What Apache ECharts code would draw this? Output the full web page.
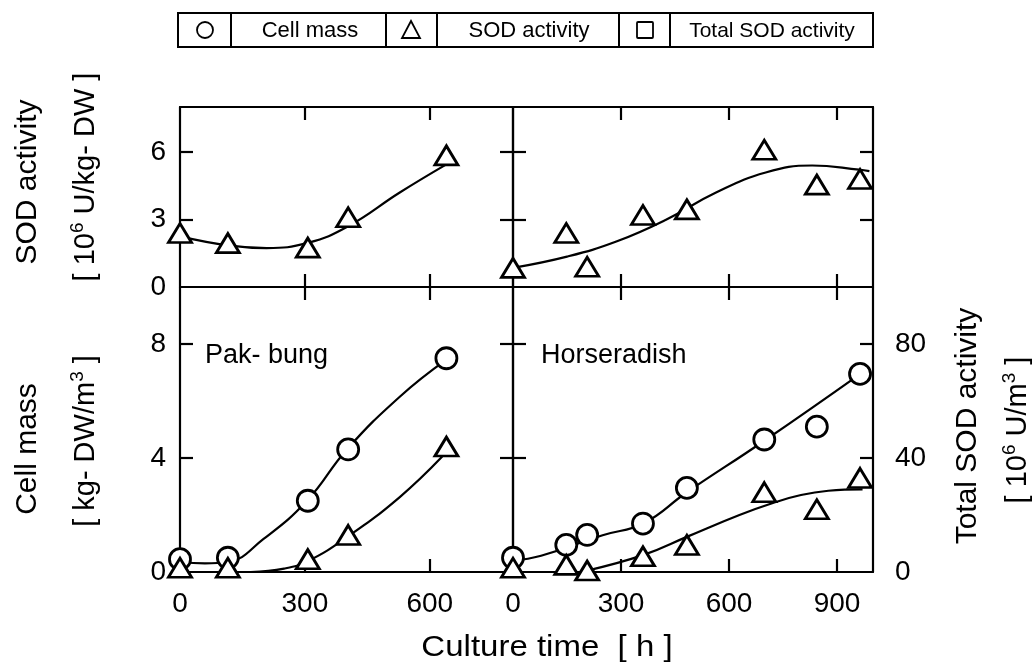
<!DOCTYPE html>
<html><head><meta charset="utf-8">
<script src="https://cdn.jsdelivr.net/npm/echarts@6/dist/echarts.min.js"></script>
<style>html,body{margin:0;padding:0;background:#fff}#c{width:1035px;height:664px}</style>
</head><body><div id="c"></div>
<script>
// ---- data ----
const hoursPak = [0, 115, 307, 404, 640];
const sodPak = [2.4, 1.95, 1.75, 3.1, 5.85];
const cellPak = [0.45, 0.5, 2.5, 4.3, 7.5];
const totalPak = [1.5, 1.5, 4.5, 13, 44];

const hoursHor = [0, 148, 206, 361, 483, 698, 844, 964];
const sodHor = [0.85, 2.4, 0.9, 3.2, 3.45, 6.1, 4.55, 4.8];
const cellHor = [0.5, 0.95, 1.3, 1.7, 2.95, 4.65, 5.1, 6.95];
const totalHor = [1.5, 2.5, 0.5, 5.5, 9.5, 28, 22, 33];

// fitted curves drawn in the reference
const fitSodPakH = [0, 115, 208, 307, 404, 528, 640];
const fitSodPak = [2.25, 1.85, 1.73, 1.96, 2.7, 4.2, 5.45];
const fitCellPakH = [0, 60, 115, 200, 305, 401, 528, 640];
const fitCellPak = [0.35, 0.3, 0.35, 1.15, 2.5, 4.3, 6.15, 7.45];
const fitTotalPakH = [170, 250, 307, 404, 528, 630];
const fitTotalPak = [0, 1.2, 3.8, 12.5, 26.3, 40.5];

const fitSodHorH = [0, 150, 287, 425, 564, 702, 831, 961, 990];
const fitSodHor = [0.85, 1.35, 2.02, 2.99, 4.2, 5.09, 5.4, 5.22, 5.15];
const fitCellHorH = [0, 78, 249, 363, 482, 695, 961];
const fitCellHor = [0.4, 0.57, 1.29, 1.71, 2.79, 4.58, 6.92];
const fitTotalHorH = [206, 363, 486, 629, 724, 800, 876, 971];
const fitTotalHor = [0.5, 6, 12.5, 20, 24.3, 27, 28.5, 29];

// tick labels
const pakTicks = [0, 300, 600];
const horTicks = [0, 300, 600, 900];
const sodTicks = [0, 3, 6];
const cellTicks = [0, 4, 8];
const totalTicks = [0, 40, 80];

const FONT = 'Liberation Sans';
const zip = (a, b) => a.map((v, i) => [v, b[i]]);

function ax(kind, grid, min, max, ticks, pos, showLabel) {
  return {
    type: 'value', gridIndex: grid, min: min, max: max, position: pos,
    axisLine: { show: true, onZero: false, lineStyle: { color: '#000', width: 2.2 } },
    axisTick: { show: true, inside: true, length: 13, lineStyle: { color: '#000', width: 2.2 },
      customValues: ticks.filter(v => v > min && v < max) },
    axisLabel: { show: !!showLabel, customValues: ticks, color: '#000', fontSize: 28,
      fontFamily: FONT, margin: kind === 'x' ? 18 : (pos === 'right' ? 22 : 14) },
    splitLine: { show: false }
  };
}

const xAxes = [
  ax('x', 0, 0, 800, pakTicks, 'bottom', false),
  ax('x', 0, 0, 800, pakTicks, 'top', false),
  ax('x', 1, 0, 1000, horTicks, 'bottom', false),
  ax('x', 1, 0, 1000, horTicks, 'top', false),
  ax('x', 2, 0, 800, pakTicks, 'bottom', true),
  ax('x', 2, 0, 800, pakTicks, 'top', false),
  ax('x', 3, 0, 1000, horTicks, 'bottom', true),
  ax('x', 3, 0, 1000, horTicks, 'top', false)
];
const yAxes = [
  ax('y', 0, 0, 8, sodTicks, 'left', true),
  ax('y', 0, 0, 8, sodTicks, 'right', false),
  ax('y', 1, 0, 8, sodTicks, 'left', false),
  ax('y', 1, 0, 8, sodTicks, 'right', false),
  ax('y', 2, 0, 10, cellTicks, 'left', true),
  ax('y', 2, 0, 100, totalTicks, 'right', false),
  ax('y', 3, 0, 10, cellTicks, 'left', false),
  ax('y', 3, 0, 100, totalTicks, 'right', true)
];

function fit(xi, yi, data) {
  return { type: 'line', xAxisIndex: xi, yAxisIndex: yi, data: data, smooth: 0.45,
    symbol: 'none', silent: true, z: 2, lineStyle: { color: '#000', width: 2.2 } };
}
function pts(xi, yi, data, shape) {
  return { type: 'scatter', xAxisIndex: xi, yAxisIndex: yi, data: data, z: 4,
    symbol: shape, symbolSize: shape === 'circle' ? 21 : [23, 19],
    itemStyle: { color: '#fff', borderColor: '#000', borderWidth: 2.8, opacity: 1 } };
}

const series = [
  fit(0, 0, zip(fitSodPakH, fitSodPak)),
  pts(0, 0, zip(hoursPak, sodPak), 'triangle'),
  fit(2, 2, zip(fitSodHorH, fitSodHor)),
  pts(2, 2, zip(hoursHor, sodHor), 'triangle'),
  fit(4, 4, zip(fitCellPakH, fitCellPak)),
  fit(4, 5, zip(fitTotalPakH, fitTotalPak)),
  pts(4, 4, zip(hoursPak, cellPak), 'circle'),
  pts(4, 5, zip(hoursPak, totalPak), 'triangle'),
  fit(6, 6, zip(fitCellHorH, fitCellHor)),
  fit(6, 7, zip(fitTotalHorH, fitTotalHor)),
  pts(6, 6, zip(hoursHor, cellHor), 'circle'),
  pts(6, 7, zip(hoursHor, totalHor), 'triangle')
];

function vtext(x, y, text, size, rich) {
  return { type: 'text', x: x, y: y, rotation: Math.PI / 2, silent: true,
    style: { text: text, fill: '#000', fontFamily: FONT, fontSize: size,
      align: 'center', verticalAlign: 'middle', rich: rich || undefined } };
}
const supRich = { sup: { fontSize: 19, fontFamily: FONT, fill: '#000', verticalAlign: 'top', lineHeight: 36 },
  n: { fontSize: 29, fontFamily: FONT, fill: '#000', lineHeight: 36 } };

const LT = 13, LB = 47, LL = 178, LR = 873, LM = (LT + LB) / 2;
const legendDiv = [231, 386, 437, 619, 670];
const graphic = [
  { type: 'rect', shape: { x: LL, y: LT, width: LR - LL, height: LB - LT }, silent: true,
    style: { fill: 'none', stroke: '#000', lineWidth: 2 } }
].concat(legendDiv.map(x => ({ type: 'line', silent: true, shape: { x1: x, y1: LT, x2: x, y2: LB },
    style: { stroke: '#000', lineWidth: 2 } })))
.concat([
  { type: 'circle', shape: { cx: 205, cy: LM, r: 8 }, silent: true, style: { fill: 'none', stroke: '#000', lineWidth: 1.8 } },
  { type: 'polygon', shape: { points: [[411, LM - 9], [402, LM + 8], [420, LM + 8]] }, silent: true, style: { fill: 'none', stroke: '#000', lineWidth: 1.8 } },
  { type: 'rect', shape: { x: 637, y: LM - 8, width: 16, height: 16, r: 1 }, silent: true, style: { fill: 'none', stroke: '#000', lineWidth: 1.8 } },
  { type: 'text', x: 310, y: LM + 1, silent: true, style: { text: 'Cell mass', fill: '#000', fontSize: 22, fontFamily: FONT, align: 'center', verticalAlign: 'middle' } },
  { type: 'text', x: 529, y: LM + 1, silent: true, style: { text: 'SOD activity', fill: '#000', fontSize: 22, fontFamily: FONT, align: 'center', verticalAlign: 'middle' } },
  { type: 'text', x: 772, y: LM + 1, silent: true, style: { text: 'Total SOD activity', fill: '#000', fontSize: 21, fontFamily: FONT, align: 'center', verticalAlign: 'middle' } },
  // panel labels
  { type: 'text', x: 205, y: 356, silent: true, style: { text: 'Pak- bung', fill: '#000', fontSize: 27, fontFamily: FONT, align: 'left', verticalAlign: 'middle' } },
  { type: 'text', x: 541, y: 356, silent: true, style: { text: 'Horseradish', fill: '#000', fontSize: 27, fontFamily: FONT, align: 'left', verticalAlign: 'middle' } },
  // x title
  { type: 'text', x: 547, y: 648, silent: true, scaleX: 1.1, style: { text: 'Culture time  [ h ]', fill: '#000', fontSize: 30, fontFamily: FONT, align: 'center', verticalAlign: 'middle' } },
  // y titles
  vtext(28, 182, 'SOD activity', 30),
  vtext(86, 177, '{n|[ 10}{sup|6}{n| U/kg- DW ]}', 29, supRich),
  vtext(28, 449, 'Cell mass', 30),
  vtext(86, 441, '{n|[ kg- DW/m}{sup|3}{n| ]}', 29, supRich),
  vtext(968, 426, 'Total SOD activity', 30),
  vtext(1018, 430, '{n|[ 10}{sup|6}{n| U/m}{sup|3}{n| ]}', 29, supRich)
]);

const chart = echarts.init(document.getElementById('c'), null, { renderer: 'canvas' });
chart.setOption({
  animation: false,
  backgroundColor: '#fff',
  grid: [
    { left: 180, top: 107, width: 333, height: 180 },
    { left: 513, top: 107, width: 360, height: 180 },
    { left: 180, top: 287, width: 333, height: 285 },
    { left: 513, top: 287, width: 360, height: 285 }
  ],
  xAxis: xAxes,
  yAxis: yAxes,
  series: series,
  graphic: graphic
});
</script></body></html>
